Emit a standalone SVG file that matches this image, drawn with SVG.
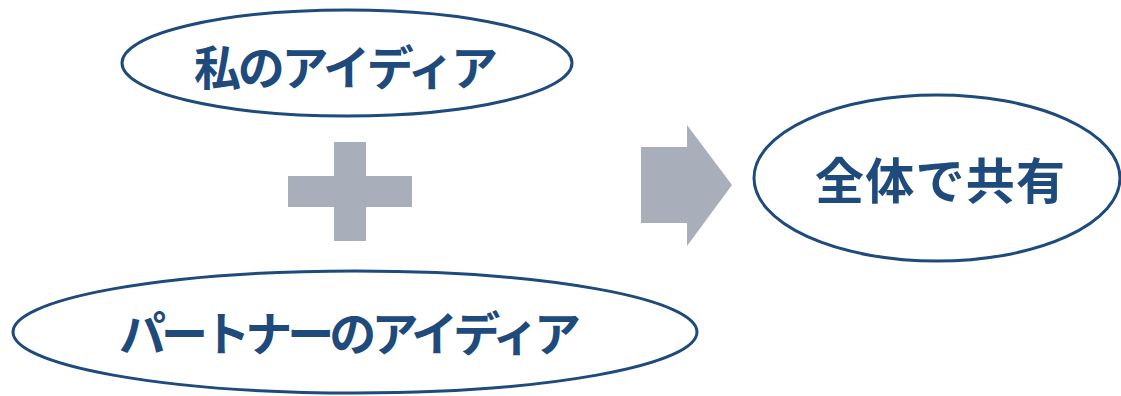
<svg xmlns="http://www.w3.org/2000/svg" width="1121" height="396" viewBox="0 0 1121 396">
<style>
.node{fill:#fff;stroke:#1F4A7C;stroke-width:3}
.lbl{font-family:"Noto Sans CJK JP","Noto Sans CJK SC",sans-serif;font-weight:bold;font-size:47px;fill:#1F4A7C;text-anchor:middle}
.shape{fill:#A9AEBB}
</style>
<rect width="1121" height="396" fill="#fff"/>
<g id="my-idea">
<ellipse class="node" cx="347" cy="63" rx="225" ry="53"/>
<text class="lbl" x="346" y="85" textLength="304" lengthAdjust="spacing">私のアイディア</text>
</g>
<g id="partner-idea">
<ellipse class="node" cx="355" cy="332" rx="342" ry="61"/>
<text class="lbl" x="350" y="351" textLength="462" lengthAdjust="spacing">パートナーのアイディア</text>
</g>
<g id="share-all">
<ellipse class="node" cx="937" cy="178" rx="183" ry="83"/>
<text class="lbl" x="940" y="199" style="font-size:49px" textLength="250" lengthAdjust="spacing">全体で共有</text>
</g>
<g id="connectors">
<path class="shape" d="M334 142H366V176H412V207H366V241H334V207H288V176H334Z"/>
<path class="shape" d="M641 147H687V125L732 185L687 246V223H641Z"/>
</g>
</svg>
